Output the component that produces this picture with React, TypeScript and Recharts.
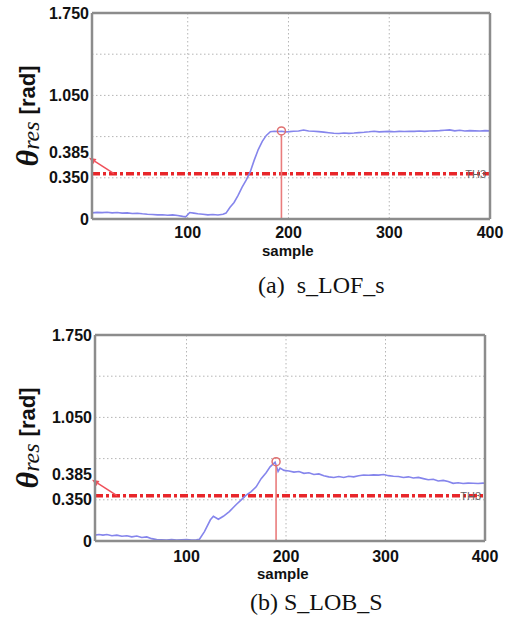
import React from 'react';
import {
  LineChart, Line, XAxis, YAxis, CartesianGrid, ReferenceLine, ReferenceDot
} from 'recharts';

// (a) s_LOF_s
const samplesA = [5, 10, 15, 20, 25, 30, 35, 40, 45, 50, 55, 60, 65, 70, 75, 80, 85, 90, 95, 98,
  102, 106, 110, 115, 120, 125, 130, 135, 138, 142, 146, 150, 154, 158, 162, 166, 170, 174, 178, 182,
  186, 190, 193, 197, 201, 205, 210, 215, 220, 225, 230, 235, 240, 245, 250, 255, 260, 265, 270, 275,
  280, 285, 290, 295, 300, 305, 310, 315, 320, 325, 330, 335, 340, 345, 350, 355, 360, 365, 370, 375,
  380, 385, 390, 395, 400];
const valuesA = [0.052, 0.056, 0.054, 0.057, 0.052, 0.055, 0.05, 0.052, 0.047, 0.049, 0.044, 0.04, 0.038, 0.035, 0.036, 0.032, 0.035, 0.03, 0.022, 0.018,
  0.055, 0.05, 0.045, 0.04, 0.035, 0.038, 0.034, 0.04, 0.05, 0.1, 0.14, 0.2, 0.27, 0.33, 0.4, 0.5, 0.59, 0.66, 0.71, 0.742,
  0.745, 0.743, 0.745, 0.74, 0.742, 0.745, 0.748, 0.756, 0.748, 0.745, 0.742, 0.738, 0.733, 0.728, 0.726, 0.73, 0.727, 0.73, 0.734, 0.737,
  0.741, 0.746, 0.74, 0.742, 0.744, 0.741, 0.744, 0.743, 0.745, 0.744, 0.747, 0.744, 0.747, 0.749, 0.751, 0.754, 0.757, 0.749, 0.754, 0.747,
  0.751, 0.749, 0.747, 0.751, 0.749];

// (b) S_LOB_S
const samplesB = [8, 12, 16, 20, 25, 30, 35, 40, 45, 50, 55, 60, 65, 70, 75, 80, 85, 90, 95, 100,
  105, 110, 113, 118, 124, 127, 132, 137, 143, 150, 155, 160, 165, 170, 175, 180, 184, 189, 192, 194,
  198, 203, 208, 213, 218, 223, 228, 233, 238, 243, 248, 253, 258, 263, 268, 273, 278, 283, 288, 293,
  298, 303, 308, 313, 318, 323, 328, 333, 338, 343, 348, 353, 358, 363, 368, 373, 378, 383, 388, 393,
  398, 400];
const valuesB = [0.05, 0.055, 0.05, 0.055, 0.045, 0.05, 0.04, 0.045, 0.035, 0.042, 0.03, 0.035, 0.02, 0.012, 0.01, 0.008, 0.012, 0.008, 0.01, 0.012,
  0.008, 0.01, 0.015, 0.08, 0.18, 0.21, 0.185, 0.21, 0.25, 0.31, 0.35, 0.39, 0.42, 0.46, 0.53, 0.58, 0.63, 0.67, 0.59, 0.62,
  0.6, 0.595, 0.585, 0.59, 0.575, 0.58, 0.565, 0.57, 0.555, 0.545, 0.54, 0.548, 0.54, 0.55, 0.545, 0.555, 0.56, 0.558, 0.562, 0.56,
  0.565, 0.555, 0.55, 0.548, 0.54, 0.545, 0.535, 0.54, 0.53, 0.52, 0.525, 0.51, 0.515, 0.505, 0.49, 0.495, 0.488, 0.492, 0.49, 0.488,
  0.492, 0.49];

const threshold = 0.385;
const peakA = { sample: 193, value: 0.748 };
const peakB = { sample: 190, value: 0.674 };

const yTicks = [0, 0.35, 0.7, 1.05, 1.4, 1.75];
const yTickText: Record<string, string> = { '0': '0', '0.35': '0.350', '1.05': '1.050', '1.75': '1.750' };
const xTicks = [100, 200, 300, 400];
const innerXTicks = [100, 200, 300];
const innerYTicks = [0.35, 0.7, 1.05, 1.4];

const FRAME = '#8c8c8c';
const TICKMARK = '#555';
const SANS = '"Liberation Sans", Arial, sans-serif';
const SERIF = '"Liberation Serif", "Times New Roman", serif';

const ThresholdLabel = (props: any) => {
  const { viewBox } = props;
  if (!viewBox) return null;
  const { x, y, width } = viewBox;
  const hx = x - 3, hy = y - 16;
  const tx = x + 22, ty = y;
  const dx = hx - tx, dy = hy - ty;
  const len = Math.sqrt(dx * dx + dy * dy);
  const ux = dx / len, uy = dy / len;
  const bx = hx - ux * 7, by = hy - uy * 7;
  return (
    <g>
      <text x={x - 3} y={y - 16} textAnchor="end" fontFamily={SANS} fontWeight="bold" fontSize={16} fill="#111">0.385</text>
      <line x1={tx} y1={ty} x2={bx} y2={by} stroke="#f0505a" strokeWidth={1.5} />
      <polygon points={`${hx},${hy} ${bx - uy * 3},${by + ux * 3} ${bx + uy * 3},${by - ux * 3}`} fill="#f0505a" />
      <text x={x + width - 4} y={y + 4} textAnchor="end" fontFamily={SANS} fontSize={11} fill="#666">TH3</text>
    </g>
  );
};

// y-axis title drawn inside the svg, rotated about its anchor point
const YTitle = (props: any) => {
  const { viewBox } = props;
  if (!viewBox) return null;
  const cx = 27;
  const cy = viewBox.y + viewBox.height / 2;
  return (
    <text x={cx} y={cy} transform={`rotate(-90 ${cx} ${cy})`} textAnchor="middle" dominantBaseline="central" fill="#111">
      <tspan fontFamily={SERIF} fontStyle="italic" fontWeight="bold" fontSize={32}>θ</tspan>
      <tspan fontFamily={SERIF} fontStyle="italic" fontSize={24} dy={4}>res</tspan>
      <tspan fontFamily={SANS} fontWeight="bold" fontSize={22} dy={-4} dx={7}>[rad]</tspan>
    </text>
  );
};

interface PanelProps {
  samples: number[];
  values: number[];
  peak: { sample: number; value: number };
  xStart: number;
  top: number;
  yAxisWidth: number;
  marginRight: number;
  tickMargin: number;
}

const Panel = ({ samples, values, peak, xStart, top, yAxisWidth, marginRight, tickMargin }: PanelProps) => {
  const data = samples.map((s, i) => ({ s, v: values[i] }));
  return (
    <div style={{ position: 'absolute', left: 0, top }}>
      <LineChart width={508} height={250} data={data} margin={{ top: 13, right: marginRight, bottom: 7, left: 0 }}>
        <XAxis xAxisId="x" dataKey="s" type="number" domain={[xStart, 400]} ticks={xTicks} allowDataOverflow
          height={24} tickLine={false} tickSize={0} tickMargin={tickMargin}
          axisLine={{ stroke: FRAME, strokeWidth: 2.5 }}
          tick={{ fontFamily: SANS, fontWeight: 'bold', fontSize: 16, fill: '#111' }} />
        <XAxis xAxisId="xt" orientation="top" mirror type="number" domain={[xStart, 400]} ticks={innerXTicks}
          allowDataOverflow tick={false} tickSize={9} tickLine={{ stroke: TICKMARK, strokeWidth: 2 }}
          axisLine={{ stroke: FRAME, strokeWidth: 2.5 }} />
        <XAxis xAxisId="xb" orientation="bottom" mirror type="number" domain={[xStart, 400]} ticks={innerXTicks}
          allowDataOverflow tick={false} tickSize={9} tickLine={{ stroke: TICKMARK, strokeWidth: 2 }} axisLine={false} />
        <YAxis yAxisId="y" type="number" domain={[0, 1.75]} ticks={yTicks} allowDataOverflow width={yAxisWidth}
          tickLine={false} tickSize={0} tickMargin={3} interval={0}
          tickFormatter={(v: number) => yTickText[String(v)] ?? ''}
          axisLine={{ stroke: FRAME, strokeWidth: 2.5 }}
          tick={{ fontFamily: SANS, fontWeight: 'bold', fontSize: 16, fill: '#111' }}
          label={<YTitle />} />
        <YAxis yAxisId="yl" mirror type="number" domain={[0, 1.75]} ticks={innerYTicks} allowDataOverflow
          tick={false} tickSize={8} tickLine={{ stroke: TICKMARK, strokeWidth: 2 }} axisLine={false} />
        <YAxis yAxisId="yr" orientation="right" mirror type="number" domain={[0, 1.75]} ticks={innerYTicks}
          allowDataOverflow tick={false} tickSize={8} tickLine={{ stroke: TICKMARK, strokeWidth: 2 }}
          axisLine={{ stroke: FRAME, strokeWidth: 2.5 }} />
        <CartesianGrid xAxisId="x" yAxisId="y" stroke="#b5b5b5" strokeDasharray="1.5 2.5" />
        <ReferenceLine xAxisId="x" yAxisId="y" y={threshold} stroke="#e8262a" strokeWidth={3.5}
          strokeDasharray="8 3 3 3" label={<ThresholdLabel />} />
        <Line xAxisId="x" yAxisId="y" dataKey="v" type="linear" stroke="#8585ec" strokeWidth={1.6}
          dot={false} isAnimationActive={false} />
        <ReferenceLine xAxisId="x" yAxisId="y"
          segment={[{ x: peak.sample, y: 0 }, { x: peak.sample, y: peak.value - 0.03 }]}
          stroke="#ea7c7c" strokeWidth={1.6} />
        <ReferenceDot xAxisId="x" yAxisId="y" x={peak.sample} y={peak.value} r={4}
          fill="none" stroke="#e07070" strokeWidth={1.5} />
      </LineChart>
    </div>
  );
};

const TextAt = ({ x, y, size, font, bold, children }: any) => (
  <div style={{
    position: 'absolute', left: x, top: y, fontFamily: font, fontSize: size,
    fontWeight: bold ? 'bold' : 'normal', color: '#111', whiteSpace: 'pre', lineHeight: 1
  }}>{children}</div>
);

export default function App() {
  return (
    <div style={{ position: 'absolute', left: 0, top: 0, width: 508, height: 620, background: '#fff' }}>
      <Panel samples={samplesA} values={valuesA} peak={peakA} xStart={5} top={0}
        yAxisWidth={92} marginRight={18} tickMargin={8} />
      <Panel samples={samplesB} values={valuesB} peak={peakB} xStart={8} top={322}
        yAxisWidth={95} marginRight={23} tickMargin={10} />
      <TextAt x={262} y={243} size={15} font={SANS} bold>sample</TextAt>
      <TextAt x={257} y={566} size={15} font={SANS} bold>sample</TextAt>
      <TextAt x={258} y={273} size={24} font={SERIF}>{'(a)  s_LOF_s'}</TextAt>
      <TextAt x={250} y={590} size={24} font={SERIF}>{'(b) S_LOB_S'}</TextAt>
    </div>
  );
}
